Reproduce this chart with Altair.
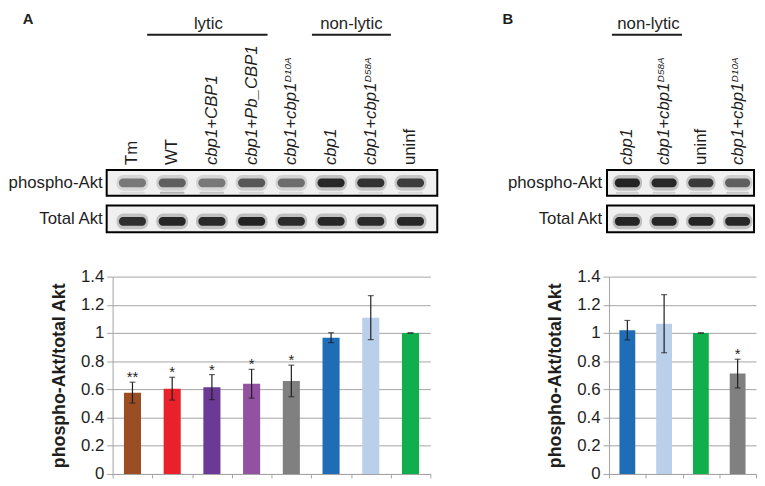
import altair as alt
import pandas as pd

FONT = "Liberation Sans"
INK = "#1e1e1e"
GRID = "#a3a3a3"

# ---------------- Panel A data ----------------
a_keys = ["Tm", "WT", "cbp1+CBP1", "cbp1+Pb_CBP1", "cbp1+cbp1 D10A", "cbp1", "cbp1+cbp1 D58A", "uninf"]
a_base = ["Tm", "WT", "cbp1+CBP1", "cbp1+Pb_CBP1", "cbp1+cbp1", "cbp1", "cbp1+cbp1", "uninf"]
a_sup = ["", "", "", "", "D10A", "", "D58A", ""]
a_ital = [False, False, True, True, True, True, True, False]
a_mean = [0.577, 0.605, 0.616, 0.640, 0.660, 0.967, 1.109, 1.000]
a_err = [0.074, 0.081, 0.089, 0.102, 0.112, 0.035, 0.156, 0.0]
a_stars = ["**", "*", "*", "*", "*", "", "", ""]
a_colors = ["#9B4E24", "#E8212A", "#6B3A96", "#9352A1", "#808080", "#1F6CB7", "#BACFE9", "#11AE4D"]
a_pho = [0.50, 0.62, 0.50, 0.66, 0.55, 0.92, 0.86, 0.80]      # phospho-Akt band intensity
a_pho2 = [0.10, 0.28, 0.20, 0.12, 0.10, 0.10, 0.10, 0.10]     # faint lower band
a_tot = [0.88, 0.92, 0.90, 0.94, 0.90, 0.92, 0.90, 0.92]      # total Akt band intensity

# ---------------- Panel B data ----------------
b_keys = ["cbp1", "cbp1+cbp1 D58A", "uninf", "cbp1+cbp1 D10A"]
b_base = ["cbp1", "cbp1+cbp1", "uninf", "cbp1+cbp1"]
b_sup = ["", "D58A", "", "D10A"]
b_ital = [True, True, False, True]
b_mean = [1.020, 1.066, 1.000, 0.712]
b_err = [0.069, 0.206, 0.0, 0.102]
b_stars = ["", "", "", "*"]
b_colors = ["#1F6CB7", "#BACFE9", "#11AE4D", "#808080"]
b_pho = [0.95, 0.92, 0.82, 0.62]
b_pho2 = [0.15, 0.15, 0.12, 0.18]
b_tot = [0.95, 0.92, 0.94, 0.92]

y_ticks = [0, 0.2, 0.4, 0.6, 0.8, 1, 1.2, 1.4]

H = 467      # plot height (whole panel, blots included)
YR = 200     # pixel span of 0..1.4


def make_df(keys, base, sup, ital, mean, err, stars, pho, pho2, tot):
    df = pd.DataFrame(dict(key=keys, base=base, sup=sup, ital=ital, mean=mean, err=err,
                           stars=stars, pho=pho, pho2=pho2, tot=tot))
    df["lo"] = df["mean"] - df["err"]
    df["hi"] = df["mean"] + df["err"]
    return df


def panel(df, keys, colors, W, box, letter, letter_x, headers):
    one = pd.DataFrame({"k": [0]})
    x = alt.X("key:N", sort=keys,
              scale=alt.Scale(domain=keys, paddingInner=0, paddingOuter=0),
              axis=alt.Axis(labels=False, title=None, tickBand="extent", ticks=True, tickSize=4,
                            tickColor=GRID, domainColor=GRID, grid=False))
    yscale = alt.Scale(domain=[0, 1.4], range=[H, H - YR], nice=False)
    y_axis = alt.Axis(values=y_ticks, format="~g", grid=True, gridColor=GRID, domainColor=GRID,
                      tickColor=GRID, tickSize=6, labelFont=FONT, labelFontSize=17, labelColor=INK,
                      labelPadding=3, title="phospho-Akt/total Akt", titleFont=FONT,
                      titleFontSize=18, titleFontWeight="bold", titleColor=INK, titlePadding=12,
                      zindex=0)

    def Y(field):
        return alt.Y(f"{field}:Q", scale=yscale, axis=y_axis)

    layers = []
    # blot boxes
    for (y0, y1) in [(159, 185), (195, 222)]:
        layers.append(alt.Chart(one).mark_rect(fill="#f0f0f0", stroke="black", strokeWidth=2).encode(
            x=alt.value(box[0]), x2=alt.value(box[1]), y=alt.value(y0), y2=alt.value(y1)))
    opac = alt.Scale(domain=[0, 1], range=[0, 1])
    halo = alt.Scale(domain=[0, 1], range=[0, 0.3])
    # band halos + cores
    for field, yc in [("pho", 172), ("tot", 211)]:
        layers.append(alt.Chart(df).mark_bar(width=alt.RelativeBandSize(0.8), cornerRadius=7, color="#444444").encode(
            x=x, y=alt.value(yc - 8), y2=alt.value(yc + 8),
            fillOpacity=alt.FillOpacity(f"{field}:Q", scale=halo, legend=None)))
        layers.append(alt.Chart(df).mark_bar(width=alt.RelativeBandSize(0.68), cornerRadius=4, color="#1a1a1a").encode(
            x=x, y=alt.value(yc - 4.5), y2=alt.value(yc + 4.5),
            opacity=alt.Opacity(f"{field}:Q", scale=opac, legend=None)))
    layers.append(alt.Chart(df).mark_bar(width=alt.RelativeBandSize(0.62), cornerRadius=1, color="#1a1a1a").encode(
        x=x, y=alt.value(181), y2=alt.value(183),
        opacity=alt.Opacity("pho2:Q", scale=opac, legend=None)))
    # blot row labels
    for txt, yc in [("phospho-Akt", 172), ("Total Akt", 208.5)]:
        layers.append(alt.Chart(one).mark_text(text=txt, font=FONT, fontSize=17, color=INK,
                                               align="right", baseline="middle").encode(
            x=alt.value(-10 if letter == "A" else -7), y=alt.value(yc)))
    # lane labels
    layers.append(alt.Chart(df).transform_filter("datum.ital").mark_text(
        angle=270, align="left", baseline="middle", font=FONT, fontSize=17, fontStyle="italic",
        color=INK).encode(x=x, y=alt.value(154), text="base:N"))
    layers.append(alt.Chart(df).transform_filter("!datum.ital").mark_text(
        angle=270, align="left", baseline="middle", font=FONT, fontSize=17,
        color=INK).encode(x=x, y=alt.value(154), text="base:N"))
    layers.append(alt.Chart(df).transform_filter("datum.sup != ''").mark_text(
        angle=270, align="left", baseline="middle", font=FONT, fontSize=10, fontStyle="italic",
        color=INK, dx=84, dy=-3).encode(x=x, y=alt.value(154), text="sup:N"))
    # group headers
    for txt, cx, x0, x1 in headers:
        layers.append(alt.Chart(one).mark_text(text=txt, font=FONT, fontSize=17, color=INK,
                                               align="center", baseline="alphabetic").encode(
            x=alt.value(cx), y=alt.value(16)))
        layers.append(alt.Chart(one).mark_rule(color=INK, strokeWidth=2).encode(
            x=alt.value(x0), x2=alt.value(x1), y=alt.value(22)))
    # panel letter
    layers.append(alt.Chart(one).mark_text(text=letter, font=FONT, fontSize=15, fontWeight="bold",
                                           color=INK, align="left", baseline="alphabetic").encode(
        x=alt.value(letter_x), y=alt.value(11)))
    # bars
    layers.append(alt.Chart(df).mark_bar(width=alt.RelativeBandSize(0.43)).encode(
        x=x, y=Y("mean"),
        color=alt.Color("key:N", scale=alt.Scale(domain=keys, range=colors), legend=None)))
    # error bars
    layers.append(alt.Chart(df).mark_rule(color=INK, strokeWidth=1.2).encode(
        x=x, y=Y("lo"), y2="hi:Q"))
    for f in ["lo", "hi"]:
        layers.append(alt.Chart(df).mark_tick(color=INK, size=6, thickness=1.2).encode(
            x=x, y=Y(f)))
    # significance stars
    layers.append(alt.Chart(df).mark_text(font=FONT, fontSize=15, color=INK,
                                          baseline="alphabetic").encode(
        x=x, y=Y("hi"), text="stars:N"))
    return alt.layer(*layers).properties(width=W, height=H)


dfA = make_df(a_keys, a_base, a_sup, a_ital, a_mean, a_err, a_stars, a_pho, a_pho2, a_tot)
dfB = make_df(b_keys, b_base, b_sup, b_ital, b_mean, b_err, b_stars, b_pho, b_pho2, b_tot)

WA = 322
WB = 149
pA = panel(dfA, a_keys, a_colors, WA, (-6, WA + 7), "A", -91,
           [("lytic", 97, 35, 157), ("non-lytic", 242, 202, 282)])
pB = panel(dfB, b_keys, b_colors, WB, (-2, WB - 2), "B", -108,
           [("non-lytic", 40, 3, 74)])

chart = alt.hconcat(pA, pB, spacing=63).properties(padding=0).configure_view(stroke="transparent")

chart.save("out.html", embed_options={"renderer": "svg", "actions": False})
